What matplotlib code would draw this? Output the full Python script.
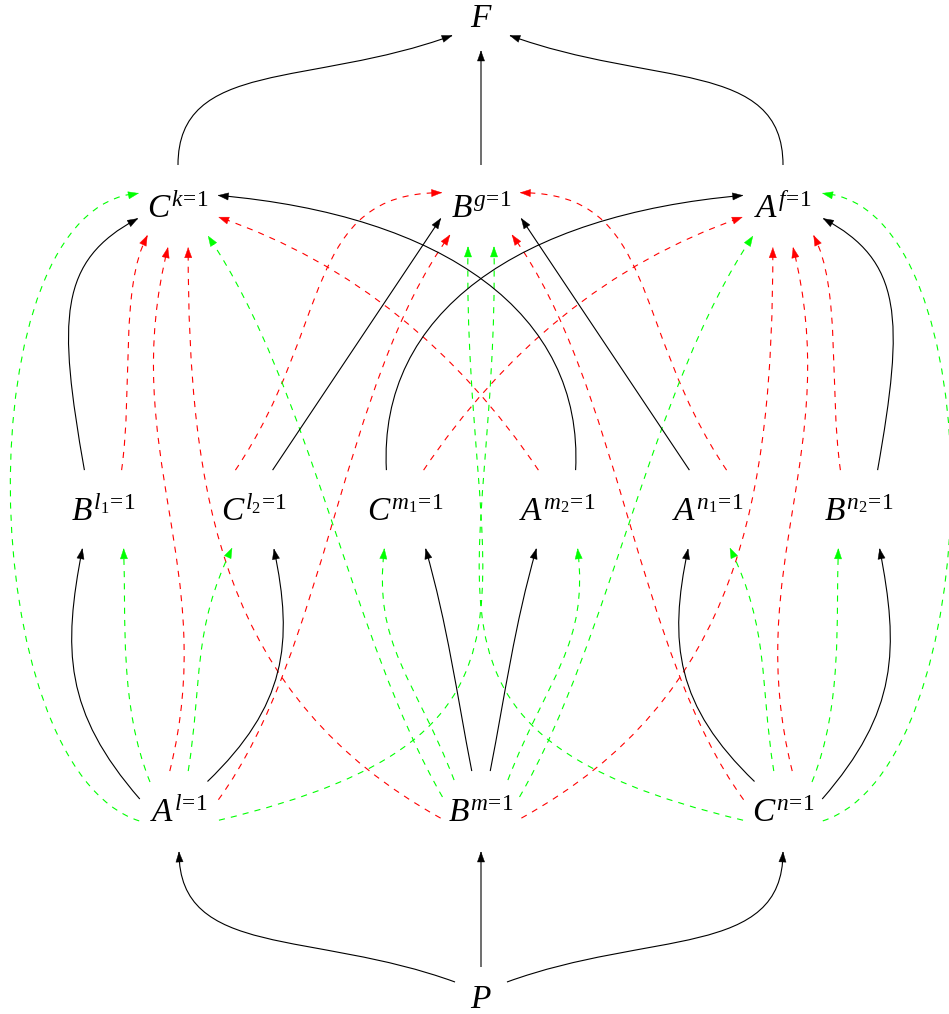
import numpy as np
import matplotlib
matplotlib.use('Agg')
import matplotlib.pyplot as plt
from matplotlib.path import Path
from matplotlib.patches import PathPatch, Polygon

plt.rcParams['mathtext.fontset'] = 'custom'
plt.rcParams['mathtext.it'] = 'Liberation Serif:italic'
plt.rcParams['mathtext.rm'] = 'Liberation Serif'

# ---- graph data ----
node_names = ['F', 'Ck', 'Bg', 'Af', 'Bl1', 'Cl2', 'Cm1', 'Am2', 'An1', 'Bn2', 'Al', 'Bm', 'Cn', 'P']
node_labels = [r'$F$', r'$C^{k\!=\!1}$', r'$B^{g\!=\!1}$', r'$A^{f\!=\!1}$',
               r'$B^{l_1\!=\!1}$', r'$C^{l_2\!=\!1}$', r'$C^{m_1\!=\!1}$', r'$A^{m_2\!=\!1}$',
               r'$A^{n_1\!=\!1}$', r'$B^{n_2\!=\!1}$',
               r'$A^{l\!=\!1}$', r'$B^{m\!=\!1}$', r'$C^{n\!=\!1}$', r'$P$']

# left half of the edges (right half is the mirror image), edges 1 and 3 lie on the axis
edge_src = ['Ck', 'Bg', 'P', 'P', 'Bl1', 'Cl2', 'Cm1', 'Al', 'Al', 'Bm',
            'Bl1', 'Al', 'Bm', 'Am2', 'Cl2', 'Al',
            'Al', 'Bm', 'Al', 'Al', 'Al', 'Bm']
edge_dst = ['F', 'F', 'Al', 'Bm', 'Ck', 'Bg', 'Af', 'Bl1', 'Cl2', 'Cm1',
            'Ck', 'Ck', 'Ck', 'Ck', 'Bg', 'Bg',
            'Ck', 'Ck', 'Bg', 'Bl1', 'Cl2', 'Cm1']
edge_kind = ['black'] * 10 + ['red'] * 6 + ['green'] * 6
mirror = {'F': 'F', 'Ck': 'Af', 'Af': 'Ck', 'Bg': 'Bg', 'Bl1': 'Bn2', 'Bn2': 'Bl1',
          'Cl2': 'An1', 'An1': 'Cl2', 'Cm1': 'Am2', 'Am2': 'Cm1',
          'Al': 'Cn', 'Cn': 'Al', 'Bm': 'Bm', 'P': 'P'}

# ---- layout (pixels, y down) ----
node_x = [481, 178, 481, 783, 103, 254, 405, 557, 708, 859, 179, 481, 783, 481]
node_y = [16, 207, 207, 207, 510, 510, 510, 510, 510, 510, 811, 811, 811, 997]
node_r = [35, 42, 42, 42, 44, 44, 44, 44, 44, 44, 41, 41, 41, 30]

# anchor on src, anchor on dst, out dir, in dir, handle0, handle1 (degrees, y up)
edge_geom = [
    (90, 214, 90, 20, 0.35, 0.5),
    (90, 270, 90, 90, 0.0, 0.0),
    (150, 270, 160, 90, 0.5, 0.35),
    (90, 270, 90, 90, 0.0, 0.0),
    (115, 196, 100, 28, 0.6, 0.35),
    (65, 196, 0, 0, 0.0, 0.0),
    (115, 164, 93, 5, 0.35, 0.5),
    (163, 242, 131, 79, 0.45, 0.4),
    (46, 297, 44, 102, 0.45, 0.4),
    (103, 298, 101, 106, 0.35, 0.35),
    (65, 223, 82, 62, 0.35, 0.25),
    (103, 256, 76, 76, 0.4, 0.4),
    (190, 284, 151, 90, 0.4, 0.4),
    (115, 346, 124, 161, 0.35, 0.35),
    (115, 160, 56, 0, 0.5, 0.4),
    (16, 222, 54, 54, 0.3, 0.3),
    (194, 161, 162, 4, 0.28, 0.28),
    (160, 316, 120, 124, 0.3, 0.3),
    (347, 252, 13.5, 89, 0.6, 0.55),
    (135, 298, 112, 92, 0.35, 0.3),
    (77, 240, 81, 64, 0.4, 0.4),
    (131, 242, 111, 83, 0.45, 0.4),
]
self_edges = {1, 3}

colors = {'black': 'black', 'red': '#ff0000', 'green': '#00ff00'}

pos = {n: (x, y, r) for n, x, y, r in zip(node_names, node_x, node_y, node_r)}


def unit(a):
    a = np.radians(a)
    return np.array([np.cos(a), -np.sin(a)])


def anchor(n, a):
    x, y, r = pos[n]
    return np.array([x, y]) + r * unit(a)


fig = plt.figure(figsize=(9.49, 10.14), dpi=100)
ax = fig.add_axes([0, 0, 1, 1])
ax.set_xlim(0, 949)
ax.set_ylim(1014, 0)
ax.axis('off')


def draw_edge(s, d, kind, g):
    a0, a1, ao, ai, h0, h1 = g
    p0 = anchor(s, a0)
    p3 = anchor(d, a1)
    L = np.hypot(*(p3 - p0))
    p1 = p0 + h0 * L * unit(ao)
    p2 = p3 - h1 * L * unit(ai)
    c = colors[kind]
    ls = '-' if kind == 'black' else (0, (5.5, 5.5))
    path = Path([p0, p1, p2, p3], [Path.MOVETO, Path.CURVE4, Path.CURVE4, Path.CURVE4])
    z = 3 if kind == 'black' else 2
    ax.add_patch(PathPatch(path, fill=False, edgecolor=c, lw=0.8, linestyle=ls, zorder=z))
    t = 0.96
    q = (1 - t) ** 3 * p0 + 3 * (1 - t) ** 2 * t * p1 + 3 * (1 - t) * t ** 2 * p2 + t ** 3 * p3
    v = p3 - q
    v = v / np.hypot(*v)
    w = np.array([-v[1], v[0]])
    base = p3 - 10 * v
    ax.add_patch(Polygon([p3, base + 3.6 * w, base - 3.6 * w], closed=True,
                         facecolor=c, edgecolor=c, lw=0.3, zorder=z + 1))


for i, (s, d, k, g) in enumerate(zip(edge_src, edge_dst, edge_kind, edge_geom)):
    draw_edge(s, d, k, g)
    if i not in self_edges:
        a0, a1, ao, ai, h0, h1 = g
        draw_edge(mirror[s], mirror[d], k, (180 - a0, 180 - a1, 180 - ao, 180 - ai, h0, h1))

for n, lab in zip(node_names, node_labels):
    x, y, r = pos[n]
    ax.text(x, y + 11, lab, ha='center', va='baseline', fontsize=24, zorder=5)

fig.savefig('out.png', dpi=100)
